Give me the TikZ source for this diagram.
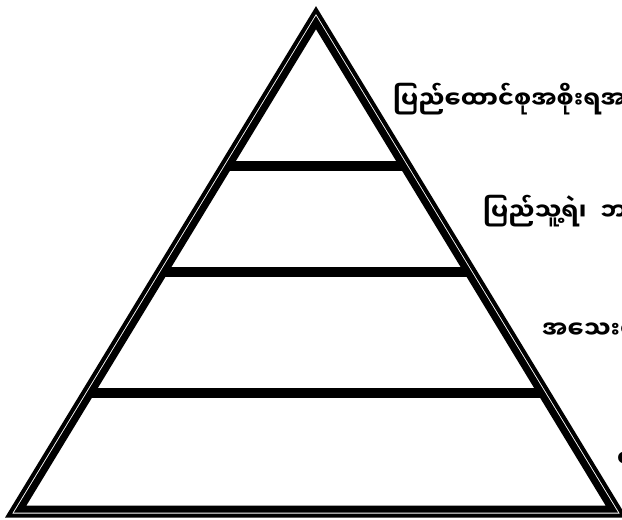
\documentclass[tikz,border=0pt]{standalone}
\usepackage{fontspec}
\newfontfamily\mya[Script=Myanmar]{Noto Sans Myanmar UI}
\begin{document}
\begin{tikzpicture}[x=1pt,y=-1pt,
  outerline/.style={line width=4pt,line join=miter},
  innerline/.style={line width=7pt,line join=miter},
  tierbar/.style={line width=9.5pt},
  lbl/.style={anchor=base west,inner sep=0pt,font=\mya\bfseries\fontsize{24}{28}\selectfont}]
\useasboundingbox (0,0) rectangle (622,520);
\fill[white] (0,0) rectangle (622,520);
% outer triangle
\coordinate (oA) at (316,10);
\coordinate (oL) at (8.6,515.5);
\coordinate (oR) at (623.4,515.5);
% inner triangle
\coordinate (iA) at (316,22.5);
\coordinate (iL) at (20.2,509);
\coordinate (iR) at (611.8,509);
\draw[outerline] (oA) -- (oL) -- (oR) -- cycle;
\draw[innerline] (iA) -- (iL) -- (iR) -- cycle;
% tier bars
\coordinate (b1l) at (228.8,166);
\coordinate (b1r) at (403.2,166);
\coordinate (b2l) at (164.3,272);
\coordinate (b2r) at (467.7,272);
\coordinate (b3l) at (90.7,393);
\coordinate (b3r) at (541.3,393);
\draw[tierbar] (b1l) -- (b1r);
\draw[tierbar] (b2l) -- (b2r);
\draw[tierbar] (b3l) -- (b3r);
% labels
\node[lbl] (t1) at (393,108) {ပြည်ထောင်စုအစိုးရအ};
\node[lbl] (t2) at (483,220) {ပြည်သူ့ရဲ၊\hspace{14pt}ဘ};
\node[lbl] (t3) at (542,338) {အသေးစ};
\node[lbl] (t4) at (617,467) {ဒေ};
\end{tikzpicture}
\end{document}
